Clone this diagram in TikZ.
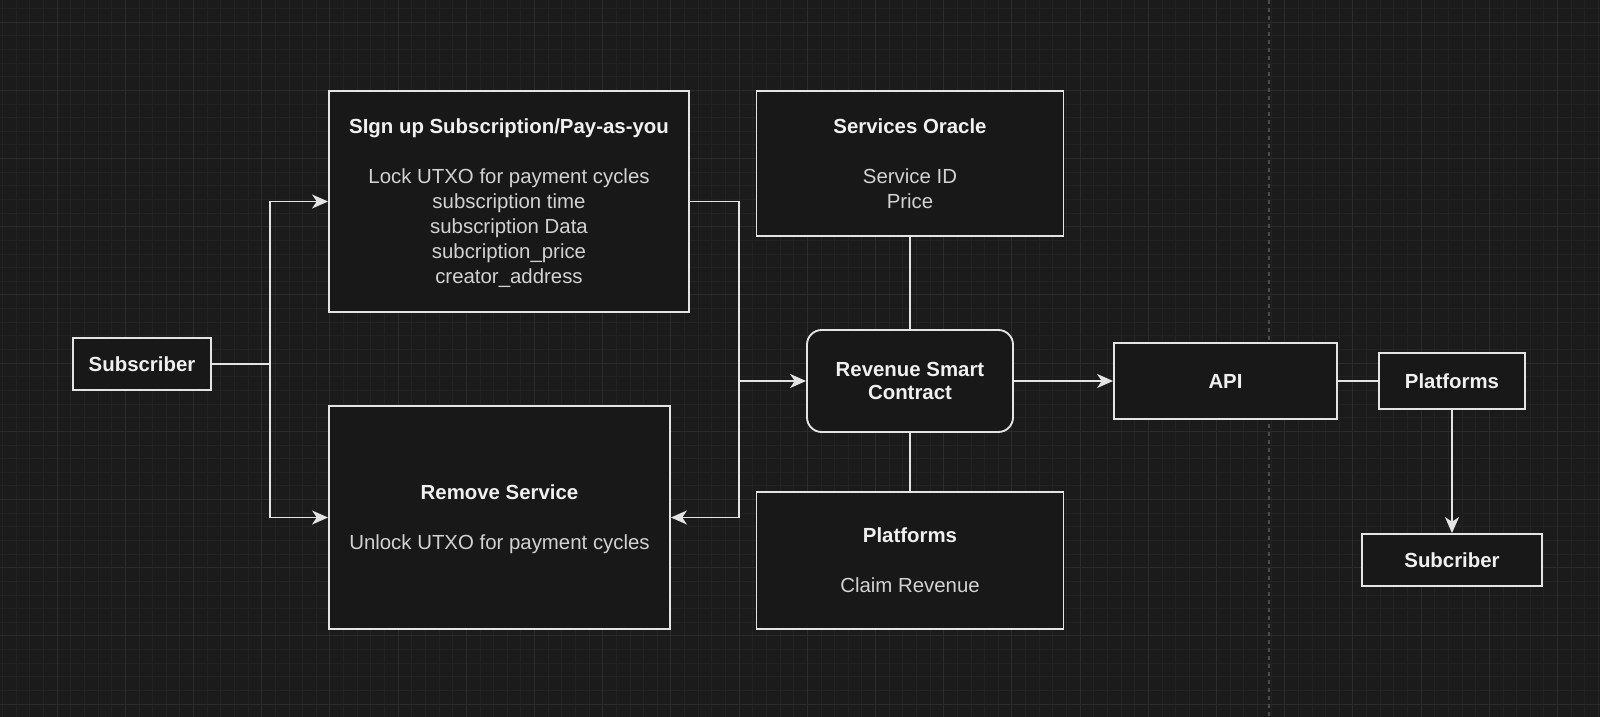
\documentclass[tikz,border=0pt]{standalone}
\usepackage{fontspec}
\setmainfont{Liberation Sans}
\usetikzlibrary{arrows.meta,positioning,calc}

\definecolor{canvas}{HTML}{1B1B1B}
\definecolor{gridminor}{HTML}{222222}
\definecolor{gridmajor}{HTML}{2B2B2B}
\definecolor{boxfill}{HTML}{181818}
\definecolor{edge}{HTML}{E4E4E4}
\definecolor{titletext}{HTML}{F0F0F0}
\definecolor{bodytext}{HTML}{D2D2D2}
\definecolor{pagebreak}{HTML}{4C4C4C}

\newcommand{\boxtitle}[1]{{\bfseries\color{titletext}#1}}

\begin{document}
\begin{tikzpicture}[
    x=0.75pt, y=-0.75pt,
    font=\fontsize{15.3}{18.75}\selectfont,
    box/.style={draw=edge, fill=boxfill, line width=1.4pt, align=center, text=bodytext, inner sep=0pt},
    link/.style={draw=edge, line width=1.4pt},
    flow/.style={link, -{Stealth[length=12pt, width=10.5pt, inset=3.5pt]}},
    minorgrid/.style={draw=gridminor, line width=0.5pt},
    majorgrid/.style={draw=gridmajor, line width=0.7pt}
  ]
  % canvas and grid
  \fill[canvas] (0,0) rectangle (1600,717);
  \useasboundingbox (0,0) rectangle (1600,717);
  \foreach \i in {0,...,117} \draw[minorgrid] ({2.44+13.64*\i},0) -- ({2.44+13.64*\i},717);
  \foreach \j in {0,...,52} \draw[minorgrid] (0,{8.36+13.64*\j}) -- (1600,{8.36+13.64*\j});
  \foreach \i in {0,...,23} \draw[majorgrid] ({57+68.2*\i},0) -- ({57+68.2*\i},717);
  \foreach \j in {0,...,10} \draw[majorgrid] (0,{22+68.2*\j}) -- (1600,{22+68.2*\j});
  \draw[pagebreak, line width=0.8pt, dash pattern=on 3pt off 3pt] (1269,0) -- (1269,717);

  % boxes
  \node[box, minimum width=103.5pt, minimum height=39pt] (sub) at (142,364) {\boxtitle{Subscriber}};
  \node[box, minimum width=270pt, minimum height=165.75pt, text depth=-2pt] (signup) at (509,201.5)
    {\boxtitle{SIgn up Subscription/Pay-as-you}\\[18.75pt]
     Lock UTXO for payment cycles\\ subscription time\\ subscription Data\\
     subcription\_price\\ creator\_address};
  \node[box, minimum width=255.75pt, minimum height=167.25pt, text depth=-2pt] (remove) at (499.5,517.5)
    {\boxtitle{Remove Service}\\[18.75pt] Unlock UTXO for payment cycles};
  \node[box, minimum width=230.25pt, minimum height=108.75pt, text depth=-1pt] (oracle) at (910,163.5)
    {\boxtitle{Services Oracle}\\[18.75pt] Service ID\\ Price};
  \node[box, rounded corners=11pt, minimum width=154.5pt, minimum height=76.5pt] (rev) at (910,381)
    {\boxtitle{Revenue Smart}\\[-1.9pt] \boxtitle{Contract}};
  \node[box, minimum width=230.25pt, minimum height=102.75pt] (claim) at (910,560.5)
    {\boxtitle{Platforms}\\[18.75pt] Claim Revenue};
  \node[box, minimum width=167.25pt, minimum height=57pt] (api) at (1225.5,381) {\boxtitle{API}};
  \node[box, minimum width=109.5pt, minimum height=42pt] (plat) at (1452,381) {\boxtitle{Platforms}};
  \node[box, minimum width=135pt, minimum height=39pt] (enduser) at (1452,560) {\boxtitle{Subcriber}};

  % connectors
  \coordinate (split) at (270,364);
  \coordinate (bus) at (739,381);
  \draw[link] (sub.east) -- (split);
  \draw[flow] (split) |- (signup.west);
  \draw[flow] (split) |- (remove.west);
  \draw[flow] (signup.east) -| (bus) |- (remove.east);
  \draw[flow] (bus) -- (rev.west);
  \draw[link] (oracle.south) -- (rev.north);
  \draw[link] (rev.south) -- (claim.north);
  \draw[flow] (rev.east) -- (api.west);
  \draw[link] (api.east) -- (plat.west);
  \draw[flow] (plat.south) -- (enduser.north);
\end{tikzpicture}
\end{document}
